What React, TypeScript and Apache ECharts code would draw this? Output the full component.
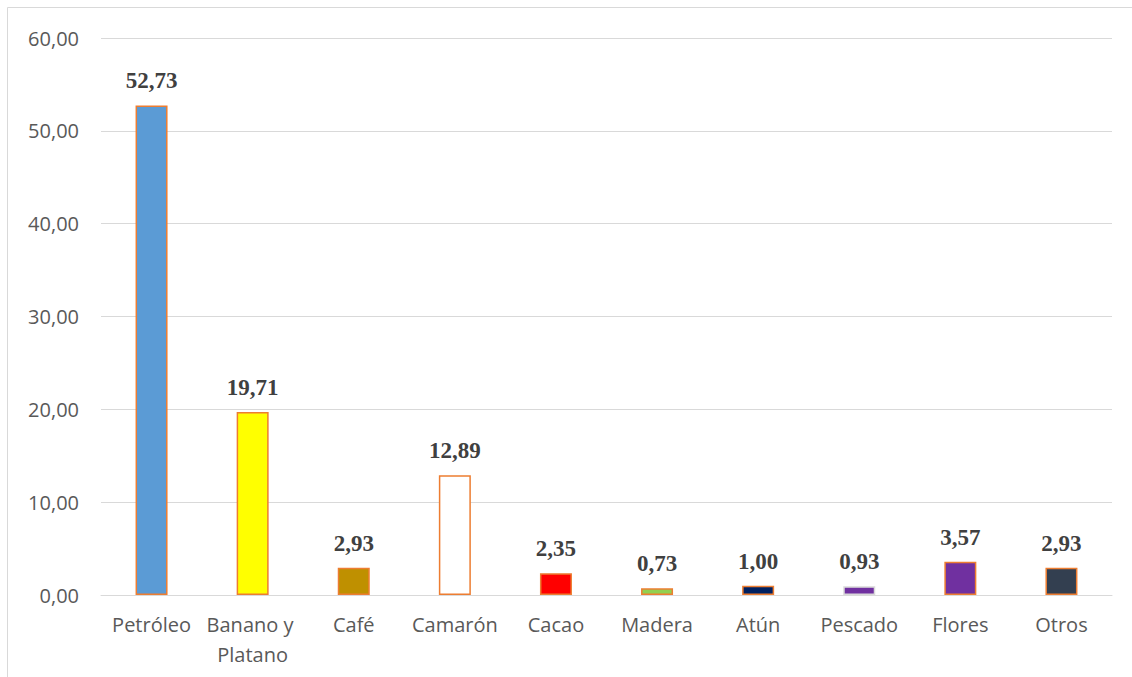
import React, { useEffect, useRef } from "react";
import * as echarts from "echarts";

const categories = ["Petróleo", "Banano y Platano", "Café", "Camarón", "Cacao", "Madera", "Atún", "Pescado", "Flores", "Otros"];
const values = [52.73, 19.71, 2.93, 12.89, 2.35, 0.73, 1.0, 0.93, 3.57, 2.93];
const fillColors = ["#5B9BD5", "#FFFF00", "#BF9000", "#FFFFFF", "#FF0000", "#92D050", "#002060", "#7030A0", "#7030A0", "#333F50"];
const borderColors = ["#ED7D31", "#ED7D31", "#ED7D31", "#ED7D31", "#ED7D31", "#ED7D31", "#ED7D31", "#D9D9D9", "#ED7D31", "#ED7D31"];

const fmt = (v: number) => v.toFixed(2).replace(".", ",");

export default function App() {
  const ref = useRef<HTMLDivElement>(null);
  useEffect(() => {
    const chart = echarts.init(ref.current!, null, { renderer: "svg" });
    chart.setOption({
      animation: false,
      backgroundColor: "#FFFFFF",
      graphic: [
        {
          type: "rect",
          shape: { x: 7.5, y: 7.5, width: 1300, height: 800 },
          style: { fill: "none", stroke: "#D9D9D9", lineWidth: 1 },
          silent: true,
        },
      ],
      grid: { left: 101, right: 20, top: 38, bottom: 82 },
      xAxis: {
        type: "category",
        data: categories,
        axisLine: { show: true, lineStyle: { color: "#D9D9D9", width: 1 } },
        axisTick: { show: false },
        axisLabel: {
          interval: 0,
          color: "#595959",
          fontFamily: "Open Sans",
          fontSize: 20,
          lineHeight: 30,
          margin: 14,
          width: 104,
          overflow: "break",
        },
      },
      yAxis: {
        type: "value",
        min: 0,
        max: 60,
        interval: 10,
        axisLine: { show: false },
        axisTick: { show: false },
        splitLine: { lineStyle: { color: "#D9D9D9", width: 1 } },
        axisLabel: {
          color: "#595959",
          fontFamily: "Open Sans",
          fontSize: 20,
          margin: 22,
          formatter: (v: number) => fmt(v),
        },
      },
      series: [
        {
          type: "bar",
          barWidth: 32,
          data: values.map((v, i) => ({
            value: v,
            itemStyle: { color: fillColors[i], borderColor: borderColors[i], borderWidth: 1.5 },
          })),
          label: {
            show: true,
            position: "top",
            distance: 13,
            color: "#404040",
            fontFamily: "Liberation Serif",
            fontWeight: "bold",
            fontSize: 23,
            formatter: (p: any) => fmt(p.value),
          },
        },
      ],
    });
    return () => chart.dispose();
  }, []);
  return <div ref={ref} style={{ position: "fixed", left: 0, top: 0, width: 1132, height: 677 }} />;
}
